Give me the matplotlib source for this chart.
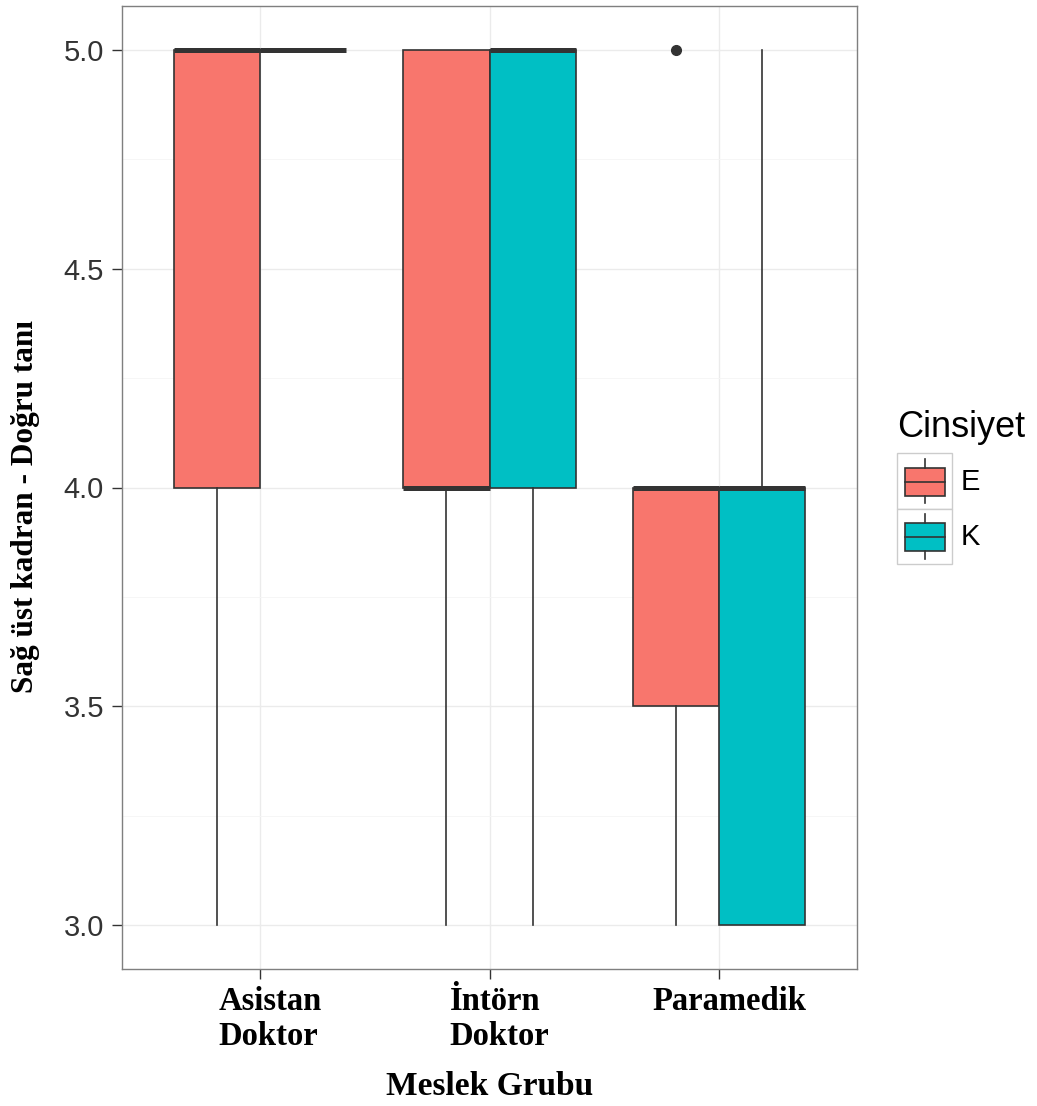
import matplotlib
matplotlib.use("Agg")
import matplotlib.pyplot as plt
from matplotlib.patches import Rectangle
from matplotlib.lines import Line2D
from matplotlib.legend_handler import HandlerBase
from matplotlib.transforms import ScaledTranslation

# ---------------- data ----------------
categories = ["Asistan\nDoktor", "İntörn\nDoktor", "Paramedik"]
groups = ["E", "K"]
colors = ["#F8766D", "#00BFC4"]
# per group: list over categories
whislo = {"E": [3.0, 3.0, 3.0], "K": [5.0, 3.0, 3.0]}
q1     = {"E": [4.0, 4.0, 3.5], "K": [5.0, 4.0, 3.0]}
med    = {"E": [5.0, 4.0, 4.0], "K": [5.0, 5.0, 4.0]}
q3     = {"E": [5.0, 5.0, 4.0], "K": [5.0, 5.0, 4.0]}
whishi = {"E": [5.0, 5.0, 4.0], "K": [5.0, 5.0, 5.0]}
fliers = {"E": [[], [], [5.0]], "K": [[], [], []]}
yticks = [3.0, 3.5, 4.0, 4.5, 5.0]
ytick_labels = ["3.0", "3.5", "4.0", "4.5", "5.0"]

W, H = 1037, 1106
fig = plt.figure(figsize=(W / 100, H / 100), dpi=100)
ax = fig.add_axes([122 / W, 1 - 969 / H, (857 - 122) / W, (969 - 6) / H])

dodge = 0.75
bw = dodge / 2
edge = "#333333"
for gi, g in enumerate(groups):
    stats = []
    for ci in range(len(categories)):
        stats.append(dict(whislo=whislo[g][ci], q1=q1[g][ci], med=med[g][ci],
                          q3=q3[g][ci], whishi=whishi[g][ci], fliers=fliers[g][ci]))
    offs = -dodge / 4 if gi == 0 else dodge / 4
    pos = [ci + 1 + offs for ci in range(len(categories))]
    ax.bxp(stats, positions=pos, widths=bw, patch_artist=True, showcaps=False,
           boxprops=dict(facecolor=colors[gi], edgecolor=edge, linewidth=1.2),
           medianprops=dict(color=edge, linewidth=3.6, solid_capstyle="butt"),
           whiskerprops=dict(color=edge, linewidth=1.2),
           flierprops=dict(marker="o", markerfacecolor=edge, markeredgecolor=edge,
                           markersize=7),
           manage_ticks=False, zorder=3)

ax.set_xlim(0.4, 3.6)
ax.set_ylim(2.9, 5.1)
ax.set_xticks([1, 2, 3])
ax.set_xticklabels(categories, fontfamily="Liberation Serif", fontweight="bold",
                   fontsize=23.5, color="black", linespacing=1.2,
                   multialignment="left")
ax.set_yticks(yticks)
ax.set_yticklabels(ytick_labels, fontfamily="Liberation Sans", fontsize=21, color="#333333")
ax.set_yticks([3.25, 3.75, 4.25, 4.75], minor=True)
ax.tick_params(axis="both", which="major", length=7, width=1, color="#333333")
ax.tick_params(axis="y", which="minor", length=0)
ax.tick_params(axis="x", pad=5)
ax.tick_params(axis="y", pad=6)
ax.grid(True, which="major", color="#EBEBEB", linewidth=1.0, zorder=0)
ax.grid(True, which="minor", axis="y", color="#F5F5F5", linewidth=0.6, zorder=0)
ax.set_axisbelow(True)
for s in ax.spines.values():
    s.set_color("#7F7F7F")
    s.set_linewidth(1.0)

ax.set_xlabel("Meslek Grubu", fontfamily="Liberation Serif", fontweight="bold",
              fontsize=24, color="black", labelpad=13)
ax.set_ylabel("Sağ üst kadran - Doğru tanı", fontfamily="Liberation Serif",
              fontweight="bold", fontsize=22.5, color="black")
ax.yaxis.set_label_coords(-0.112, 0.48)

# the reference's category labels sit slightly right of their ticks
shift = ScaledTranslation(10 / 100, 0, fig.dpi_scale_trans)
for lab in ax.get_xticklabels():
    lab.set_transform(lab.get_transform() + shift)


class BoxHandler(HandlerBase):
    def create_artists(self, legend, orig_handle, xdescent, ydescent, width, height,
                       fontsize, trans):
        fc = orig_handle.get_facecolor()
        x0, y0 = -xdescent, -ydescent
        key = Rectangle((x0, y0), width, height, facecolor="white",
                        edgecolor="#CCCCCC", linewidth=1.0, transform=trans)
        box = Rectangle((x0 + width * 0.15, y0 + height * 0.24), width * 0.72,
                        height * 0.5, facecolor=fc, edgecolor=edge, linewidth=1.2,
                        transform=trans)
        cx = x0 + width * 0.51
        m = Line2D([x0 + width * 0.15, x0 + width * 0.87], [y0 + height * 0.49] * 2,
                   color=edge, linewidth=1.2, transform=trans)
        w1 = Line2D([cx, cx], [y0 + height * 0.74, y0 + height * 0.9], color=edge,
                    linewidth=1.2, transform=trans)
        w2 = Line2D([cx, cx], [y0 + height * 0.1, y0 + height * 0.24], color=edge,
                    linewidth=1.2, transform=trans)
        return [key, box, m, w1, w2]


handles = [Rectangle((0, 0), 1, 1, facecolor=c) for c in colors]
leg = fig.legend(handles, groups, handler_map={Rectangle: BoxHandler()},
                 loc="upper left", bbox_to_anchor=(897 / W, 1 - 410 / H),
                 frameon=False, borderpad=0, borderaxespad=0,
                 prop=dict(family="Liberation Sans", size=21),
                 title="Cinsiyet", title_fontproperties=dict(family="Liberation Sans", size=26),
                 handlelength=1.886, handleheight=2.55, labelspacing=0.0,
                 handletextpad=0.28, alignment="left")
leg._legend_box.sep = 6

fig.savefig("out.png", dpi=100, facecolor="white")
